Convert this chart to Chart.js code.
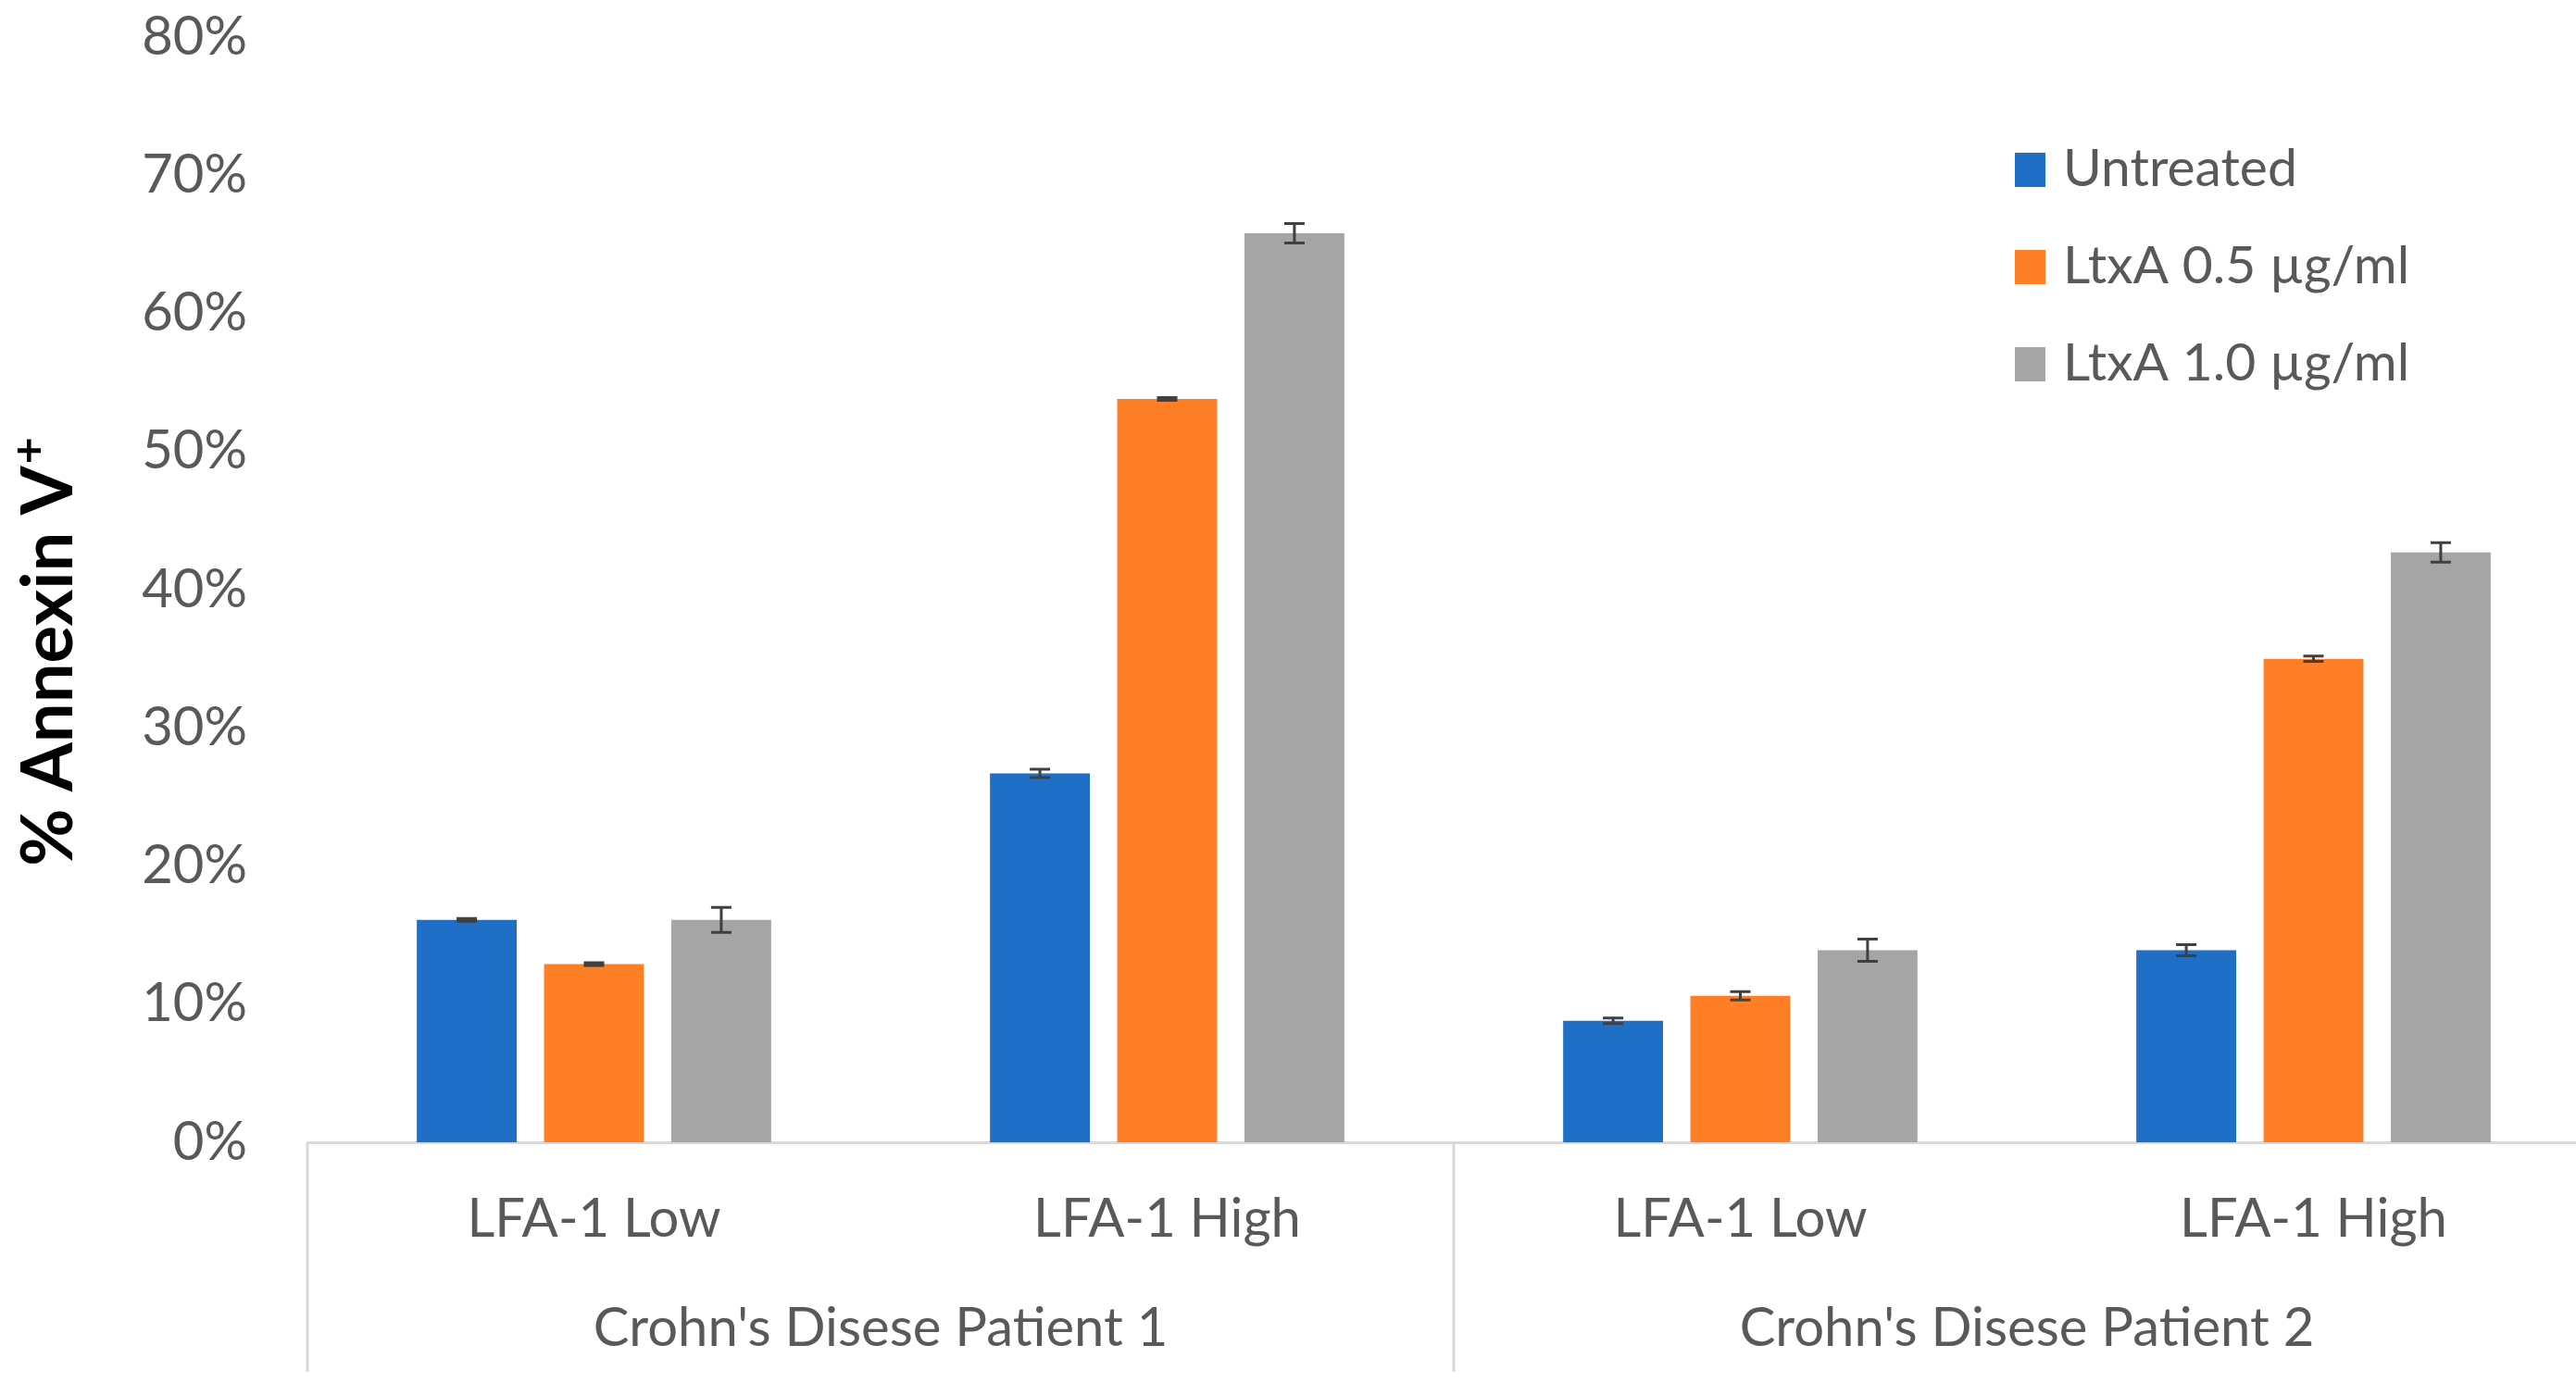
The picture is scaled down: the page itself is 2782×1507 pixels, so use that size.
<!DOCTYPE html>
<html>
<head>
<meta charset="utf-8">
<script src="https://cdn.jsdelivr.net/npm/chart.js@4.4.1/dist/chart.umd.min.js"></script>
<style>
  html, body { margin: 0; padding: 0; background: #ffffff; overflow: hidden; }
  #wrap { width: 2830px; height: 1507px; position: relative; }
</style>
</head>
<body>
<div id="wrap"><canvas id="grafica"></canvas></div>
<script>
// datos
var subLabels = ['LFA-1 Low', 'LFA-1 High', 'LFA-1 Low', 'LFA-1 High'];
var patients = ["Crohn's Disese Patient 1", "Crohn's Disese Patient 2"];
var seriesNames = ['Untreated', 'LtxA 0.5 \u00b5g/ml', 'LtxA 1.0 \u00b5g/ml'];

var untreated = [16.1, 26.7, 8.8, 13.9];
var ltxa05 = [12.9, 53.8, 10.6, 35.0];
var ltxa10 = [16.1, 65.8, 13.9, 42.7];

var errUntreated = [0.1, 0.3, 0.2, 0.4];
var errLtxa05 = [0.1, 0.1, 0.3, 0.2];
var errLtxa10 = [0.9, 0.7, 0.8, 0.7];

var yTicks = [0, 10, 20, 30, 40, 50, 60, 70, 80];

var colores = ['#1F6FC6', '#FF7F27', '#A5A5A5'];
var fuente = "'Lato', sans-serif";
var gris = '#595959';

var errores = [errUntreated, errLtxa05, errLtxa10];

// barras de error
var errorBars = {
    id: 'errorBars',
    afterDatasetsDraw: function (chart) {
        var ctx = chart.ctx;
        var y = chart.scales.y;
        ctx.save();
        ctx.strokeStyle = '#404040';
        ctx.lineWidth = 3;
        chart.data.datasets.forEach(function (ds, i) {
            var meta = chart.getDatasetMeta(i);
            meta.data.forEach(function (bar, j) {
                var v = ds.data[j];
                var e = errores[i][j];
                var top = y.getPixelForValue(v + e);
                var bot = y.getPixelForValue(v - e);
                ctx.beginPath();
                ctx.moveTo(bar.x, top);
                ctx.lineTo(bar.x, bot);
                ctx.moveTo(bar.x - 11, top);
                ctx.lineTo(bar.x + 11, top);
                ctx.moveTo(bar.x - 11, bot);
                ctx.lineTo(bar.x + 11, bot);
                ctx.stroke();
            });
        });
        ctx.restore();
    }
};

// separadores de grupos, leyenda y titulo del eje
var extras = {
    id: 'extras',
    afterDraw: function (chart) {
        var ctx = chart.ctx;
        var x = chart.scales.x;
        ctx.save();
        ctx.strokeStyle = '#D9D9D9';
        ctx.lineWidth = 3;
        var mid = (x.getPixelForValue(1) + x.getPixelForValue(2)) / 2;
        [x.left, mid].forEach(function (px) {
            ctx.beginPath();
            ctx.moveTo(px, x.top);
            ctx.lineTo(px, 1482);
            ctx.stroke();
        });

        // leyenda
        var ly = [183, 288, 393];
        ctx.font = '57px ' + fuente;
        ctx.textBaseline = 'middle';
        ctx.textAlign = 'left';
        chart.data.datasets.forEach(function (ds, i) {
            ctx.fillStyle = ds.backgroundColor;
            ctx.fillRect(2176, ly[i] - 18, 33, 37);
            ctx.fillStyle = gris;
            ctx.fillText(ds.label, 2228, ly[i]);
        });

        // titulo eje y
        ctx.translate(78, 705);
        ctx.rotate(-Math.PI / 2);
        ctx.fillStyle = '#000000';
        ctx.textBaseline = 'alphabetic';
        ctx.font = 'bold 76px ' + fuente;
        var t = '% Annexin V';
        var w = ctx.measureText(t).width;
        ctx.font = 'bold 50px ' + fuente;
        var wp = ctx.measureText('+').width;
        var start = -(w + wp) / 2;
        ctx.font = 'bold 76px ' + fuente;
        ctx.fillText(t, start, 0);
        ctx.font = 'bold 50px ' + fuente;
        ctx.fillText('+', start + w + 2, -30);
        ctx.restore();
    }
};

var datos = [untreated, ltxa05, ltxa10];
var dataset = seriesNames.map(function (n, i) {
    return {
        label: n,
        data: datos[i],
        backgroundColor: colores[i],
        borderWidth: 0,
        categoryPercentage: 0.666,
        barPercentage: 0.785,
        xAxisID: 'x'
    };
});

new Chart(document.getElementById('grafica'), {
    type: 'bar',
    data: { labels: subLabels, datasets: dataset },
    plugins: [errorBars, extras],
    options: {
        responsive: true,
        maintainAspectRatio: false,
        animation: false,
        devicePixelRatio: 1,
        layout: { padding: { top: 40, right: 22, left: 0, bottom: 5 } },
        plugins: { legend: { display: false }, tooltip: { enabled: false } },
        scales: {
            y: {
                min: 0,
                max: 80,
                afterFit: function (s) { s.width = 332; s.paddingTop = 0; s.paddingBottom = 0; },
                afterBuildTicks: function (s) { s.ticks = yTicks.map(function (v) { return { value: v }; }); },
                ticks: {
                    callback: function (v) { return v + '%'; },
                    color: gris,
                    padding: 65,
                    font: { family: fuente, size: 58 }
                },
                grid: { display: false, drawTicks: false },
                border: { display: false }
            },
            x: {
                position: 'bottom',
                afterFit: function (s) { s.height = 150; },
                ticks: {
                    color: gris,
                    padding: 48,
                    maxRotation: 0,
                    font: { family: fuente, size: 58 }
                },
                grid: { display: false, drawTicks: false },
                border: { display: true, color: '#D9D9D9', width: 3 }
            },
            x2: {
                type: 'category',
                labels: patients,
                position: 'bottom',
                offset: true,
                afterFit: function (s) { s.height = 118; },
                ticks: {
                    color: gris,
                    padding: 16,
                    maxRotation: 0,
                    font: { family: fuente, size: 58 }
                },
                grid: { display: false, drawTicks: false },
                border: { display: false }
            }
        }
    }
});
</script>
</body>
</html>
